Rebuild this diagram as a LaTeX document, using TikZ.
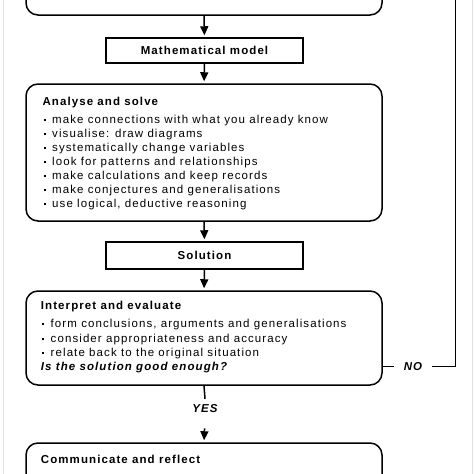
\documentclass[tikz,border=0pt]{standalone}
\usepackage{fontspec}
\setmainfont[LetterSpace=9.5]{Liberation Sans}
\usetikzlibrary{arrows.meta}
\tikzset{
  frame/.style={draw, line width=1.5pt, rounded corners=12pt, minimum width=356pt, inner sep=0pt},
  rectbox/.style={draw, line width=1.5pt, minimum width=197pt, inner sep=0pt, font=\fontsize{11.5}{14}\selectfont\bfseries},
  conn/.style={line width=1.5pt},
  arr/.style={conn, -{Triangle[width=8pt,length=9pt]}, shorten >=2pt},
  bodytext/.style={anchor=base west, inner sep=0pt, font=\fontsize{11.5}{14}\selectfont},
  headtext/.style={bodytext, font=\fontsize{11.5}{14}\selectfont\bfseries},
  lbl/.style={inner ysep=5pt, inner xsep=9.5pt, font=\fontsize{11.5}{14}\selectfont\bfseries\itshape},
}
\newcommand{\bul}{\makebox[8.5pt][l]{\raisebox{2.5pt}{\rule{2pt}{2pt}}}}
\begin{document}
\begin{tikzpicture}[x=1pt,y=-1pt]
\useasboundingbox (0,0) rectangle (474,474);
\clip (0,0) rectangle (474,474);
\fill[white] (0,0) rectangle (474,474);
\draw[black!12, line width=0.8pt] (3.5,0) -- (3.5,474);
\draw[black!12, line width=0.8pt] (472.5,0) -- (472.5,474);

\node[frame, minimum height=55pt] (top) at (204,-12.5) {};
\node[rectbox, minimum height=25pt] (model) at (204.5,50.5) {Mathematical model};
\node[frame, minimum height=137pt] (analyse) at (204,152.5) {};
\node[rectbox, minimum height=27pt] (solution) at (204.5,255.5) {Solution};
\node[frame, minimum height=94pt] (interpret) at (204,338) {};
\node[frame, minimum height=87pt] (communicate) at (204,486.5) {};

\node[headtext] (analysehead) at (42.3,105) {Analyse and solve};
\foreach \t [count=\i] in {
  make connections with what you already know,
  visualise: draw diagrams,
  systematically change variables,
  look for patterns and relationships,
  make calculations and keep records,
  make conjectures and generalisations,
  {use logical, deductive reasoning}}
  \node[bodytext] (analyseline\i) at (43.5,{123.5+14*(\i-1)}) {\bul\t};

\node[headtext] (interprethead) at (40.7,309) {Interpret and evaluate};
\foreach \t [count=\i] in {
  {form conclusions, arguments and generalisations},
  consider appropriateness and accuracy,
  relate back to the original situation}
  \node[bodytext] (interpretline\i) at (42,{327.7+14.3*(\i-1)}) {\bul\t};
\node[headtext, font=\fontsize{11.5}{14}\selectfont\bfseries\itshape] (question) at (40.7,370.8) {Is the solution good enough?};

\node[headtext] (communicatehead) at (40.7,463) {Communicate and reflect};

\node[lbl, anchor=base] (yes) at (205,412) {YES};
\node[lbl] (no) at (413,366.7) {NO};
\coordinate (noright) at (455.7,366.7);
\coordinate (loopend) at (455.7,-30);

\draw[arr] (top.south) -- (model.north);
\draw[arr] (model.south) -- (analyse.north);
\draw[arr] (analyse.south) -- (solution.north);
\draw[arr] (solution.south) -- (interpret.north);
\draw[conn] (interpret.south) -- (yes.north);
\draw[arr, shorten <=11pt] (yes.south) -- (communicate.north);
\draw[conn] (interpret.east |- no) -- (no.west);
\draw[conn] (no.east) -- (noright) -- (loopend);
\end{tikzpicture}
\end{document}
